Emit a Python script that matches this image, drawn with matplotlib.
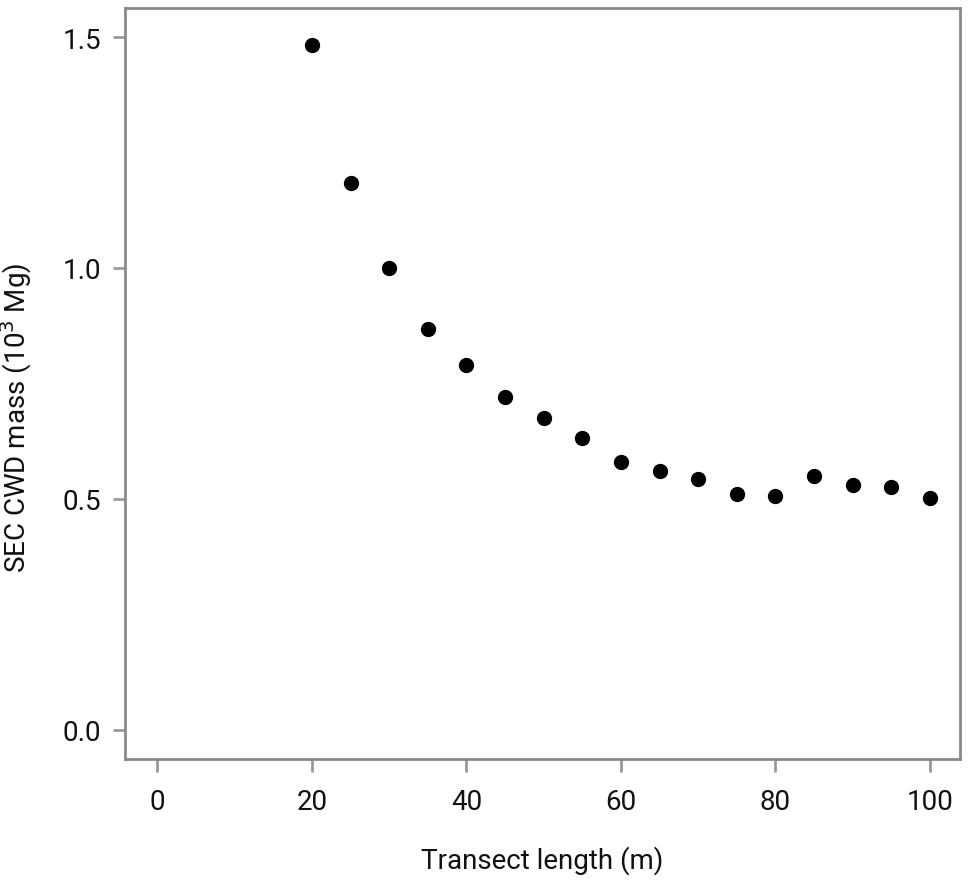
import matplotlib
matplotlib.use("Agg")
import matplotlib.pyplot as plt

plt.rcParams['font.family'] = ['Liberation Sans Narrow', 'Roboto', 'DejaVu Sans']

transect_length = [20, 25, 30, 35, 40, 45, 50, 55, 60, 65, 70, 75, 80, 85, 90, 95, 100]
sec_mass = [1.483, 1.184, 1.000, 0.868, 0.790, 0.721, 0.675, 0.632, 0.579,
            0.561, 0.543, 0.510, 0.506, 0.550, 0.530, 0.526, 0.501]

x_ticks = [0, 20, 40, 60, 80, 100]
y_ticks = [0.0, 0.5, 1.0, 1.5]

fig = plt.figure(figsize=(9.7, 8.87), dpi=100)
ax = fig.add_axes([0.1289, 0.1432, 0.8608, 0.8467])

ax.plot(transect_length, sec_mass, 'o', color='black', ms=10, mec='black')

ax.set_xlim(-4.2, 103.9)
ax.set_ylim(-0.063, 1.563)
ax.set_xticks(x_ticks)
ax.set_yticks(y_ticks)
ax.set_yticklabels([f"{v:.1f}" for v in y_ticks])

for s in ax.spines.values():
    s.set_color('#8a8a8a')
    s.set_linewidth(2.0)

ax.tick_params(axis='both', direction='out', length=9, width=2, color='#9a9a9a',
               labelsize=20, labelcolor='#111111')
ax.tick_params(axis='y', pad=8)
ax.tick_params(axis='x', pad=12)

ax.set_xlabel('Transect length (m)', fontsize=20, color='#111111', labelpad=22)
ax.set_ylabel('SEC CWD mass (10$^{3}$ Mg)', fontsize=20, color='#111111')
# label sits a little below the middle of the box in the original
ax.yaxis.set_label_coords(-0.109, 0.455)

fig.savefig('out.png', dpi=100)
